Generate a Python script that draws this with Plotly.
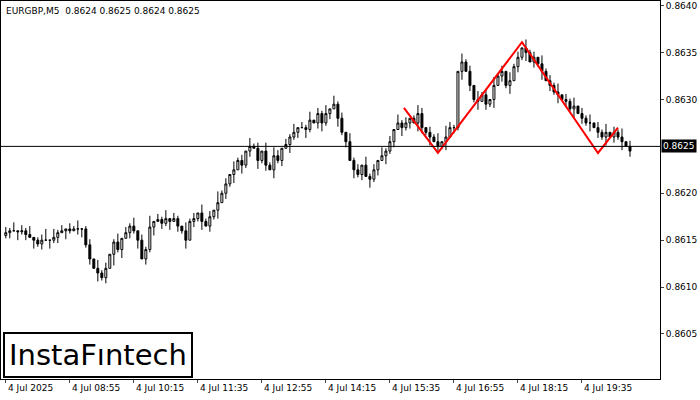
import plotly.graph_objects as go

closes = [15.8,16.0,16.0,15.9,16.0,15.6,
15.3,15.0,14.6,15.0,15.0,15.0,15.3,
15.8,16.0,16.2,16.0,16.2,16.2,16.2,
14.5,13.0,12.0,11.5,11.0,12.0,
13.5,14.8,14.0,15.2,15.8,16.5,
16.0,15.0,13.0,14.0,16.4,17.0,
17.2,16.8,17.3,17.0,17.3,16.5,
16.0,15.0,17.0,17.3,17.9,17.0,
16.5,17.5,18.2,19.0,20.0,21.0,
22.0,22.5,23.5,23.0,24.5,25.0,
24.8,23.5,24.5,23.0,22.5,24.0,
23.5,24.8,25.2,26.0,26.5,27.0,
27.0,26.8,27.8,27.5,28.5,27.5,
28.5,29.0,29.5,28.0,26.5,25.5,
23.5,22.5,22.0,23.0,21.8,21.5,
22.5,23.5,24.0,24.5,25.5,26.8,
27.5,27.0,27.5,28.0,27.5,28.5,
27.0,26.5,26.0,25.5,25.0,25.5,
26.0,27.0,27.0,33.0,34.0,33.0,
31.5,30.0,29.8,30.5,29.5,30.0,
31.5,32.5,33.0,31.5,32.0,33.5,
34.5,35.5,35.0,34.0,34.5,33.8,
33.0,32.0,31.5,30.8,30.5,30.0,
29.8,29.0,29.3,28.5,28.0,27.5,
27.5,27.0,26.5,26.0,26.5,26.0,
26.5,26.0,25.5,25.0,24.5]
first_open = 15.5
up_wick = "2130213012403120213012031201302130214021302103120312041203120312031320213021302130312031203120312031201320213042103120312031203120312031213021302130213021302"
dn_wick = "1203120312031203102312031204130213021302130213021302130213031203120312031203102312031203120312031203120321302130213021302130213021302130213021302130213021302"

x_ticks = [0,16,32,48,64,80,96,112,128,144]
x_labels = ["4 Jul 2025","4 Jul 08:55","4 Jul 10:15","4 Jul 11:35","4 Jul 12:55",
            "4 Jul 14:15","4 Jul 15:35","4 Jul 16:55","4 Jul 18:15","4 Jul 19:35"]
y_ticks = [0.8605,0.8610,0.8615,0.8620,0.8630,0.8635,0.8640]
current = 0.8625
pattern_x = [99.5,108,129,148,153]
pattern_y = [0.86291,0.86243,0.86361,0.86243,0.86270]

n = len(closes)
idx = list(range(n))
opens = [first_open] + closes[:-1]
P = lambda v: 0.86 + v/10000
o = [P(v) for v in opens]
c = [P(v) for v in closes]
h = [P(max(a,b) + int(up_wick[i % len(up_wick)])*0.3) for i,(a,b) in enumerate(zip(opens,closes))]
l = [P(min(a,b) - int(dn_wick[i % len(dn_wick)])*0.3) for i,(a,b) in enumerate(zip(opens,closes))]

fig = go.Figure()
fig.add_trace(go.Candlestick(x=idx, open=o, high=h, low=l, close=c,
    increasing=dict(line=dict(color="black", width=1), fillcolor="white"),
    decreasing=dict(line=dict(color="black", width=1), fillcolor="black"),
    whiskerwidth=0, showlegend=False, hoverinfo="skip"))
fig.add_trace(go.Scatter(x=pattern_x, y=pattern_y, mode="lines",
    line=dict(color="#ff0000", width=2), showlegend=False, hoverinfo="skip"))

fig.add_shape(type="line", xref="paper", x0=0, x1=1, yref="y", y0=current, y1=current,
              line=dict(color="black", width=1))

annotations = []
for t, s in zip(x_ticks, x_labels):
    annotations.append(dict(x=t, y=0, xref="x", yref="paper", text=s, showarrow=False,
        xanchor="left", yanchor="top", yshift=-2, font=dict(size=9, color="black", family="DejaVu Sans")))
annotations.append(dict(x=1, y=current, xref="paper", yref="y", text="0.8625", showarrow=False,
    xanchor="left", xshift=1, bgcolor="black", font=dict(size=9, color="white", family="DejaVu Sans"), borderpad=1))
annotations.append(dict(x=0, y=1, xref="paper", yref="paper", text="EURGBP,M5  0.8624 0.8625 0.8624 0.8625",
    showarrow=False, xanchor="left", yanchor="top", xshift=3, yshift=-3,
    font=dict(size=9, color="black", family="DejaVu Sans")))
annotations.append(dict(x=0.003, y=0.0, xref="paper", yref="paper", text="InstaFıntech",
    showarrow=False, xanchor="left", yanchor="bottom", yshift=1, bgcolor="white", bordercolor="black",
    borderwidth=2, borderpad=4, font=dict(size=29, color="black", family="DejaVu Sans")))

fig.update_layout(width=700, height=400, margin=dict(l=1, r=40, t=1, b=21),
    paper_bgcolor="white", plot_bgcolor="white", annotations=annotations,
    xaxis=dict(range=[-1.2, 163.5], rangeslider=dict(visible=False), showgrid=False,
               tickvals=x_ticks, ticktext=[""]*len(x_ticks), ticks="outside", ticklen=3,
               showline=True, linecolor="black", mirror=True, zeroline=False),
    yaxis=dict(range=[0.86002, 0.86405], side="right", tickvals=y_ticks,
               tickformat=".4f", ticks="outside", ticklen=3, showgrid=False,
               showline=True, linecolor="black", mirror=True, zeroline=False,
               tickfont=dict(size=9, color="black", family="DejaVu Sans")))
fig.write_html("out.html", config={"displayModeBar": False},
               post_script="document.body.style.margin='0';document.body.style.padding='0';")
